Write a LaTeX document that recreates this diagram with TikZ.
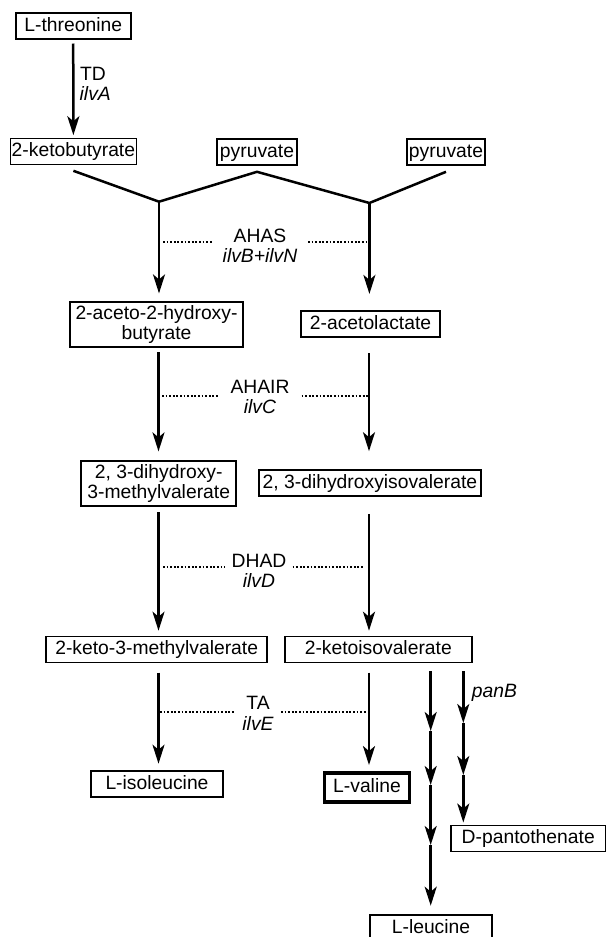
\documentclass[tikz,border=0pt]{standalone}
\usepackage{fontspec}
\setmainfont{Liberation Sans}
\usetikzlibrary{arrows.meta,calc}
\begin{document}
\begin{tikzpicture}[x=1pt,y=-1pt,
  every node/.style={font=\fontsize{19.3}{20}\selectfont},
  box/.style={draw, line width=1.6pt, inner xsep=0pt, inner ysep=3.5pt, text height=14.5pt, text depth=4.5pt, minimum height=26pt},
  boxtwo/.style={draw, line width=1.6pt, inner xsep=0pt, inner ysep=3.5pt, align=center},
  arr/.style={line width=2.5pt, -{Stealth[length=19pt,width=12pt,inset=5pt]}},
  link/.style={line width=2.5pt, line join=miter},
  dots/.style={line width=2pt, dash pattern=on 1.8pt off 1.8pt},
  lbl/.style={inner sep=0pt, anchor=base}]
\useasboundingbox (0,0) rectangle (606,937);
\clip (0,0) rectangle (606,937);

% boxes
\node[box, minimum width=115pt] (thr) at (73.2,26.2) {L-threonine};
\node[box, minimum width=126pt] (kb) at (73.4,151.5) {2-ketobutyrate};
\node[box, minimum width=80pt] (pyr1) at (257,152) {pyruvate};
\node[box, minimum width=78pt] (pyr2) at (446,152) {pyruvate};
\node[boxtwo, minimum width=173pt] (ahb) at (156.5,324.7) {2-aceto-2-hydroxy-\\butyrate};
\node[box, minimum width=139pt, minimum height=25pt] (al) at (370.5,324.2) {2-acetolactate};
\node[boxtwo, minimum width=155pt] (dhmv) at (158.7,483.2) {2, 3-dihydroxy-\\3-methylvalerate};
\node[box, minimum width=222pt] (dhiv) at (370,483) {2, 3-dihydroxyisovalerate};
\node[box, minimum width=221pt] (kmv) at (156.7,649.5) {2-keto-3-methylvalerate};
\node[box, minimum width=187pt] (kiv) at (378.3,649.5) {2-ketoisovalerate};
\node[box, minimum width=132pt] (ile) at (157,784.2) {L-isoleucine};
\node[box, line width=3.5pt, minimum width=85pt, minimum height=29pt] (val) at (367,787.3) {L-valine};
\node[box, minimum width=154.5pt] (pan) at (528.25,838.3) {D-pantothenate};
\node[box, minimum width=122pt] (leu) at (431,928) {L-leucine};

% labels
\node[lbl, anchor=base west] (td) at (80,80) {TD};
\node[lbl, anchor=base west] (ilvA) at (79.5,100) {\itshape ilvA};
\node[lbl] (ahas) at (260,242) {AHAS};
\node[lbl] (ilvBN) at (260,262) {\itshape ilvB+ilvN};
\node[lbl] (ahair) at (260,393) {AHAIR};
\node[lbl] (ilvC) at (260,413) {\itshape ilvC};
\node[lbl] (dhad) at (259,567) {DHAD};
\node[lbl] (ilvD) at (259,587) {\itshape ilvD};
\node[lbl] (ta) at (258,709.3) {TA};
\node[lbl] (ilvE) at (258,730) {\itshape ilvE};
\node[lbl, anchor=base west] (panB) at (471.7,697) {\itshape panB};

% helper coordinates
\coordinate (J1) at (159,201.7);
\coordinate (J2) at (369.4,203);
\coordinate (cL) at (158.5,0);
\coordinate (cR) at (369,0);
\coordinate (cLeu) at (430.7,0);
\coordinate (cPan) at (463.3,0);
\coordinate (l1) at (430.7,731);
\coordinate (l2) at (430.7,785);
\coordinate (l3) at (430.7,845);
\coordinate (p1) at (463.3,723);
\coordinate (p2) at (463.3,775);

% TD
\draw[arr, shorten <=3.5pt, shorten >=2.5pt] (thr.south) -- (kb.north);

% AHAS
\draw[link] ([yshift=-5.5pt]kb.south) -- (J1) -- ([yshift=-6pt]pyr1.south) -- (J2) -- ([yshift=-6pt]pyr2.south);
\draw[arr, shorten >=8pt] (J1) -- (J1 |- ahb.north);
\draw[arr, shorten >=16.5pt] (J2) -- (J2 |- al.north);

% AHAIR
\draw[arr, shorten <=4pt, shorten >=8.5pt] (cL |- ahb.south) -- (cL |- dhmv.north);
\draw[arr, shorten <=15pt, shorten >=18pt] (cR |- al.south) -- (cR |- dhiv.north);

% DHAD
\draw[arr, shorten <=5.7pt, shorten >=5pt] (cL |- dhmv.south) -- (cL |- kmv.north);
\draw[arr, shorten <=17pt, shorten >=5pt] (cR |- dhiv.south) -- (cR |- kiv.north);

% TA
\draw[arr, shorten <=9.4pt, shorten >=6.7pt] (cL |- kmv.south) -- (cL |- ile.north);
\draw[arr, shorten <=9.4pt, shorten >=6pt] (cR |- kiv.south) -- (cR |- val.north);

% leucine branch
\draw[arr, shorten <=7.7pt] (cLeu |- kiv.south) -- (l1);
\draw[arr] (l1) -- (l2);
\draw[arr] (l2) -- (l3);
\draw[arr, shorten >=8.5pt] (l3) -- (cLeu |- leu.north);

% pantothenate branch
\draw[arr, shorten <=7.7pt] (cPan |- kiv.south) -- (p1);
\draw[arr] (p1) -- (p2);
\draw[arr, shorten >=2pt] (p2) -- (cPan |- pan.north);

% dotted enzyme lines
\coordinate (d1a) at (163,242);   \coordinate (d1b) at (213,242);
\coordinate (d1c) at (308,242);   \coordinate (d1d) at (368,242);
\coordinate (d2a) at (162,395.7); \coordinate (d2b) at (218,395.7);
\coordinate (d2c) at (301.5,395.7); \coordinate (d2d) at (368,395.7);
\coordinate (d3a) at (163,566.7); \coordinate (d3b) at (225,566.7);
\coordinate (d3c) at (292.6,566.7); \coordinate (d3d) at (364,566.7);
\coordinate (d4a) at (160,711.7); \coordinate (d4b) at (233.6,711.7);
\coordinate (d4c) at (281,711.7); \coordinate (d4d) at (366.8,711.7);
\draw[dots] (d1a) -- (d1b);
\draw[dots] (d1c) -- (d1d);
\draw[dots] (d2a) -- (d2b);
\draw[dots] (d2c) -- (d2d);
\draw[dots] (d3a) -- (d3b);
\draw[dots] (d3c) -- (d3d);
\draw[dots] (d4a) -- (d4b);
\draw[dots] (d4c) -- (d4d);
\end{tikzpicture}
\end{document}
